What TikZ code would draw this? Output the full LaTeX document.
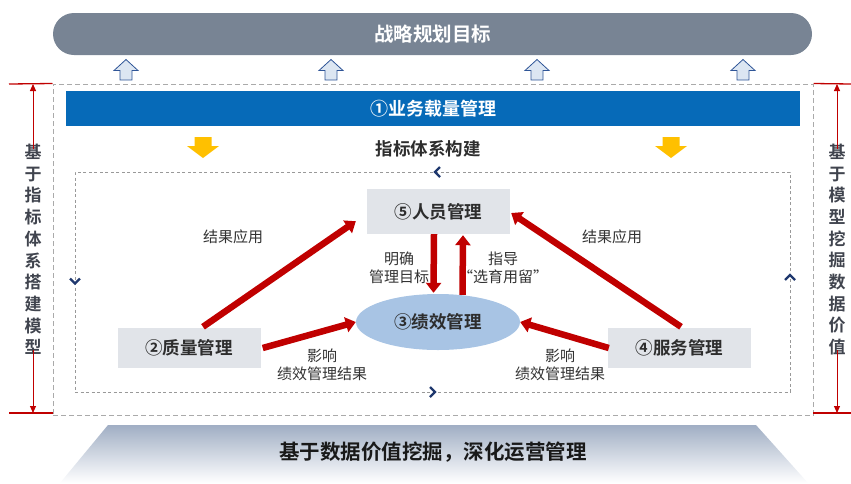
\documentclass[tikz,border=0pt]{standalone}
\usepackage{fontspec}
\setmainfont{Noto Sans CJK SC}[BoldFont={Noto Sans CJK SC Bold}]
\usetikzlibrary{arrows.meta,shapes.geometric,calc}
\definecolor{bargrey}{RGB}{120,132,148}
\definecolor{barblue}{RGB}{6,106,184}
\definecolor{boxgrey}{RGB}{225,228,233}
\definecolor{ellblue}{RGB}{168,196,228}
\definecolor{darkred}{RGB}{192,0,0}
\definecolor{txtdark}{RGB}{45,45,45}
\definecolor{sidegrey}{RGB}{64,68,78}
\definecolor{lbl}{RGB}{50,50,50}
\definecolor{chev}{RGB}{31,56,110}
\definecolor{dashgrey}{RGB}{170,170,170}
\definecolor{uparrowfill}{RGB}{220,230,242}
\definecolor{uparrowline}{RGB}{47,85,151}
\definecolor{yel}{RGB}{255,192,0}
\definecolor{trap}{RGB}{160,174,196}
\tikzset{
  mgmtbox/.style={fill=boxgrey, draw=none, minimum width=143pt, minimum height=#1, inner sep=0pt,
    font=\fontsize{17.5}{17.5}\selectfont\bfseries, text=txtdark},
  redarrow/.style={draw=darkred, line width=6.5pt, -{Triangle[width=15pt,length=10pt]}},
  lblnode/.style={align=center, text=lbl, font=\fontsize{15}{18}\selectfont, inner sep=0pt},
  sidetext/.style={align=center, text=sidegrey, font=\fontsize{17}{21.7}\selectfont\bfseries, inner sep=0pt},
  sidearrow/.style={draw=darkred, line width=1pt, -{Triangle[width=6pt,length=7pt]}},
  sideline/.style={draw=darkred, line width=1.3pt},
  chevron/.style={draw=chev, line width=2.2pt},
  uparrowshape/.style={fill=uparrowfill, draw=uparrowline, line width=0.8pt},
}
\begin{document}
\begin{tikzpicture}[x=1pt,y=-1pt]
\useasboundingbox (0,0) rectangle (851,483);

% top bar
\node[fill=bargrey, rounded corners=21pt, minimum width=759pt, minimum height=42pt, inner sep=0pt,
  text=white, font=\fontsize{19.5}{19.5}\selectfont\bfseries] (goal) at (432.5,34) {战略规划目标};

% up arrows
\foreach \xx in {126,331,537,743}{
  \path[uparrowshape] (\xx,59.5) -- (\xx+12,70.5) -- (\xx+6,70.5) -- (\xx+6,80) -- (\xx-6,80) -- (\xx-6,70.5) -- (\xx-12,70.5) -- cycle;
}

% outer dashed frame
\node[draw=dashgrey, line width=1pt, dash pattern=on 5pt off 3pt, minimum width=760pt, minimum height=331pt, inner sep=0pt] (outer) at (433,249.5) {};

% side markers left
\coordinate (lt) at (33,84);
\coordinate (lb) at (33,413);
\draw[sideline] (9,84) -- (outer.north west);
\draw[sideline] (9,413) -- (53,413);
\node[sidetext] (ltext) at (33,249.5) {基\\于\\指\\标\\体\\系\\搭\\建\\模\\型};
\draw[sidearrow] ([yshift=-5pt]ltext.north) -- (lt);
\draw[sidearrow] ([yshift=5pt]ltext.south) -- (lb);

% side markers right
\coordinate (rt) at (837,84);
\coordinate (rb) at (837,413);
\draw[sideline] (outer.north east) -- (851,84);
\draw[sideline] (813,413) -- (851,413);
\node[sidetext] (rtext) at (837,249.5) {基\\于\\模\\型\\挖\\掘\\数\\据\\价\\值};
\draw[sidearrow] ([yshift=-5pt]rtext.north) -- (rt);
\draw[sidearrow] ([yshift=5pt]rtext.south) -- (rb);

% blue bar
\node[fill=barblue, minimum width=734pt, minimum height=35pt, inner sep=0pt,
  text=white, font=\fontsize{18}{18}\selectfont\bfseries] (biz) at (433,108.5) {①业务载量管理};

% yellow arrows
\foreach \xx in {203,671}{
  \fill[yel] (\xx-8.5,137) -- (\xx+8.5,137) -- (\xx+8.5,146) -- (\xx+16,146) -- (\xx,158) -- (\xx-16,146) -- (\xx-8.5,146) -- cycle;
}

\node[text=txtdark, font=\fontsize{17.5}{17.5}\selectfont\bfseries, inner sep=0pt] (idx) at (428,149) {指标体系构建};

% inner dotted frame
\node[draw=dashgrey!90!black, line width=0.9pt, dash pattern=on 3pt off 2.5pt, minimum width=715pt, minimum height=220pt, inner sep=0pt] (inner) at (432.5,282) {};

% chevrons
\draw[chevron] (440,167) -- (435,172) -- (440,177);
\draw[chevron] (70,278.5) -- (75,283.5) -- (80,278.5);
\draw[chevron] (430,387) -- (435,392) -- (430,397);
\draw[chevron] (785,280) -- (790,275) -- (795,280);

% management nodes
\node[mgmtbox=45pt] (p) at (438.5,211.5) {⑤人员管理};
\node[mgmtbox=40pt] (q) at (189,348) {②质量管理};
\node[mgmtbox=40pt] (s) at (679.5,348) {④服务管理};
\node[ellipse, fill=ellblue, minimum width=164pt, minimum height=56pt, inner sep=0pt,
  font=\fontsize{17.5}{17.5}\selectfont\bfseries, text=txtdark] (e) at (438,322) {③绩效管理};

% red arrows
\draw[redarrow] ([shift={(14,-1)}]q.north) -- ([shift={(-11,-13)}]p.south west);
\draw[redarrow] ([shift={(2,0)}]q.east) -- (e.west);
\draw[redarrow] ([shift={(1.5,-1)}]s.north) -- ([shift={(1,1.5)}]p.east);
\draw[redarrow] ([shift={(1,0)}]s.west) -- (e.east);
\draw[redarrow] ([shift={(-4.5,0)}]p.south) -- ([shift={(-4.5,-1)}]e.north);
\draw[redarrow] ([shift={(24.5,1)}]e.north) -- ([shift={(24.5,1)}]p.south);

% labels
\node[lblnode] (l1) at (233,237) {结果应用};
\node[lblnode] (l2) at (612,237) {结果应用};
\node[lblnode] (l3) at (399,268) {明确\\管理目标};
\node[lblnode] (l4) at (503,268) {指导\\“选育用留”};
\node[lblnode] (l5) at (322,365) {影响\\绩效管理结果};
\node[lblnode] (l6) at (560,365) {影响\\绩效管理结果};

% bottom trapezoid
\shade[top color=trap, bottom color=white] (108,425) -- (756,425) -- (808,483) -- (60,483) -- cycle;
\node[text=black!90, font=\fontsize{20.5}{20.5}\selectfont\bfseries, inner sep=0pt] (base) at (433,452) {基于数据价值挖掘，深化运营管理};
\end{tikzpicture}
\end{document}
